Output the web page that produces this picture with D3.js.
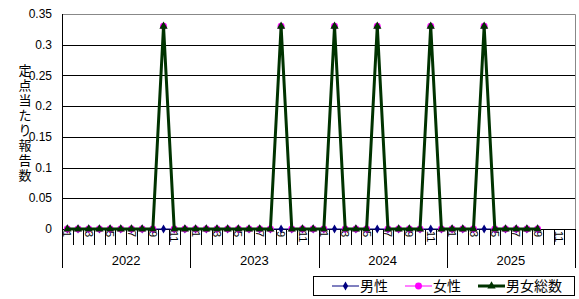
<!DOCTYPE html>
<html>
<head>
<meta charset="utf-8">
<script src="https://cdn.jsdelivr.net/npm/d3@7"></script>
<style>
  body { margin: 0; background: #fff; }
  svg { display: block; font-family: "Liberation Sans", "Noto Sans CJK JP", sans-serif; }
  .jp { font-family: "Noto Sans CJK JP", sans-serif; }
</style>
</head>
<body>
<svg width="579" height="299"></svg>
<script>
const years = ['2022', '2023', '2024', '2025'];
const months = [1, 2, 3, 4, 5, 6, 7, 8, 9, 10, 11, 12];
const yTicks = [0, 0.05, 0.1, 0.15, 0.2, 0.25, 0.3, 0.35];

// 2022/1 .. 2025/9
const male = [
  0, 0, 0, 0, 0, 0, 0, 0, 0, 0, 0, 0,
  0, 0, 0, 0, 0, 0, 0, 0, 0, 0, 0, 0,
  0, 0, 0, 0, 0, 0, 0, 0, 0, 0, 0, 0,
  0, 0, 0, 0, 0, 0, 0, 0, 0
];
const female = [
  0, 0, 0, 0, 0, 0, 0, 0, 0, 0.33, 0, 0,
  0, 0, 0, 0, 0, 0, 0, 0, 0.33, 0, 0, 0,
  0, 0.33, 0, 0, 0, 0.33, 0, 0, 0, 0, 0.33, 0,
  0, 0, 0, 0.33, 0, 0, 0, 0, 0
];
const total = [
  0, 0, 0, 0, 0, 0, 0, 0, 0, 0.33, 0, 0,
  0, 0, 0, 0, 0, 0, 0, 0, 0.33, 0, 0, 0,
  0, 0.33, 0, 0, 0, 0.33, 0, 0, 0, 0, 0.33, 0,
  0, 0, 0, 0.33, 0, 0, 0, 0, 0
];

const svg = d3.select('svg');
const plotLeft = 62, plotRight = 575, plotTop = 14, plotBottom = 229;

const cats = [];
years.forEach(y => months.forEach(m => cats.push(y + '-' + m)));

const x = d3.scaleBand().domain(cats).range([plotLeft, plotRight]);
const y = d3.scaleLinear().domain([0, 0.35]).range([plotBottom, plotTop]);

// gridlines
svg.append('g').selectAll('line')
  .data(yTicks.filter(t => t > 0 && t < 0.35))
  .join('line')
  .attr('x1', plotLeft).attr('x2', plotRight)
  .attr('y1', d => Math.round(y(d)) + 0.5).attr('y2', d => Math.round(y(d)) + 0.5)
  .attr('stroke', '#000');

// plot border (top and right)
svg.append('path')
  .attr('d', `M${plotLeft},${Math.round(y(0.35)) + 0.5}H${plotRight + 0.5}V${plotBottom}`)
  .attr('fill', 'none')
  .attr('stroke', '#888');

// y axis
const yAxis = svg.append('g');
yAxis.append('line')
  .attr('x1', plotLeft + 0.5).attr('x2', plotLeft + 0.5)
  .attr('y1', y(0.35)).attr('y2', 268)
  .attr('stroke', '#000');
yAxis.selectAll('text')
  .data(yTicks)
  .join('text')
  .attr('x', 52)
  .attr('y', d => y(d))
  .attr('dy', '0.35em')
  .attr('text-anchor', 'end')
  .attr('font-size', 12)
  .text(d => d3.format('')(d));

// y label, stacked characters
const yLabel = '定点当たり報告数';
svg.append('g').attr('class', 'jp').selectAll('text')
  .data(yLabel.split(''))
  .join('text')
  .attr('x', 25)
  .attr('y', (d, i) => 70 + i * 15)
  .attr('dy', '0.35em')
  .attr('text-anchor', 'middle')
  .attr('font-size', 13)
  .text(d => d);

// x axis
const xAxis = svg.append('g');
xAxis.append('line')
  .attr('x1', plotLeft).attr('x2', plotRight)
  .attr('y1', plotBottom + 0.5).attr('y2', plotBottom + 0.5)
  .attr('stroke', '#000');
xAxis.selectAll('line.mtick')
  .data(cats.slice(1))
  .join('line')
  .attr('class', 'mtick')
  .attr('x1', d => Math.round(x(d)) + 0.5).attr('x2', d => Math.round(x(d)) + 0.5)
  .attr('y1', plotBottom)
  .attr('y2', d => d.endsWith('-1') ? 268 : 245)
  .attr('stroke', '#000');
xAxis.append('line')
  .attr('x1', plotRight + 0.5).attr('x2', plotRight + 0.5)
  .attr('y1', plotBottom).attr('y2', 268)
  .attr('stroke', '#000');
xAxis.selectAll('text.mlab')
  .data(cats.filter(d => +d.split('-')[1] % 2 === 1))
  .join('text')
  .attr('class', 'mlab')
  .attr('transform', d => `translate(${x(d) + x.bandwidth() / 2},231) rotate(90)`)
  .attr('dy', '0.35em')
  .attr('font-size', 11)
  .text(d => d.split('-')[1]);
xAxis.selectAll('text.ylab')
  .data(years)
  .join('text')
  .attr('class', 'ylab')
  .attr('x', d => (x(d + '-1') + x(d + '-12') + x.bandwidth()) / 2)
  .attr('y', 260)
  .attr('dy', '0.35em')
  .attr('text-anchor', 'middle')
  .attr('font-size', 13)
  .text(d => d);

// series
const px = i => x(cats[i]) + x.bandwidth() / 2;
const line = d3.line().x((d, i) => px(i)).y(d => y(d));

const series = [
  { name: '男性', values: male, color: '#000080', width: 1, marker: d3.symbolDiamond, size: 24 },
  { name: '女性', values: female, color: '#ff00ff', width: 1, marker: d3.symbolCircle, size: 38 },
  { name: '男女総数', values: total, color: '#003300', width: 3, marker: d3.symbolTriangle, size: 30 }
];

series.forEach(s => {
  const g = svg.append('g');
  g.append('path')
    .attr('d', line(s.values))
    .attr('fill', 'none')
    .attr('stroke', s.color)
    .attr('stroke-width', s.width);
  g.selectAll('path.m')
    .data(s.values)
    .join('path')
    .attr('class', 'm')
    .attr('transform', (d, i) => `translate(${px(i)},${y(d)})`)
    .attr('d', d3.symbol().type(s.marker).size(s.size))
    .attr('fill', s.color);
});

// legend
const lg = svg.append('g');
lg.append('rect')
  .attr('x', 313.5).attr('y', 276.5)
  .attr('width', 261).attr('height', 19)
  .attr('fill', '#fff').attr('stroke', '#000');
const legendX = [332, 405, 478];
series.forEach((s, i) => {
  const cx = legendX[i];
  lg.append('line')
    .attr('x1', cx).attr('x2', cx + 27)
    .attr('y1', 286).attr('y2', 286)
    .attr('stroke', s.color).attr('stroke-width', s.width);
  lg.append('path')
    .attr('transform', `translate(${cx + 13.5},286)`)
    .attr('d', d3.symbol().type(s.marker).size(s.size))
    .attr('fill', s.color);
  lg.append('text')
    .attr('class', 'jp')
    .attr('x', cx + 28)
    .attr('y', 286)
    .attr('dy', '0.35em')
    .attr('font-size', 14)
    .text(s.name);
});
</script>
</body>
</html>
